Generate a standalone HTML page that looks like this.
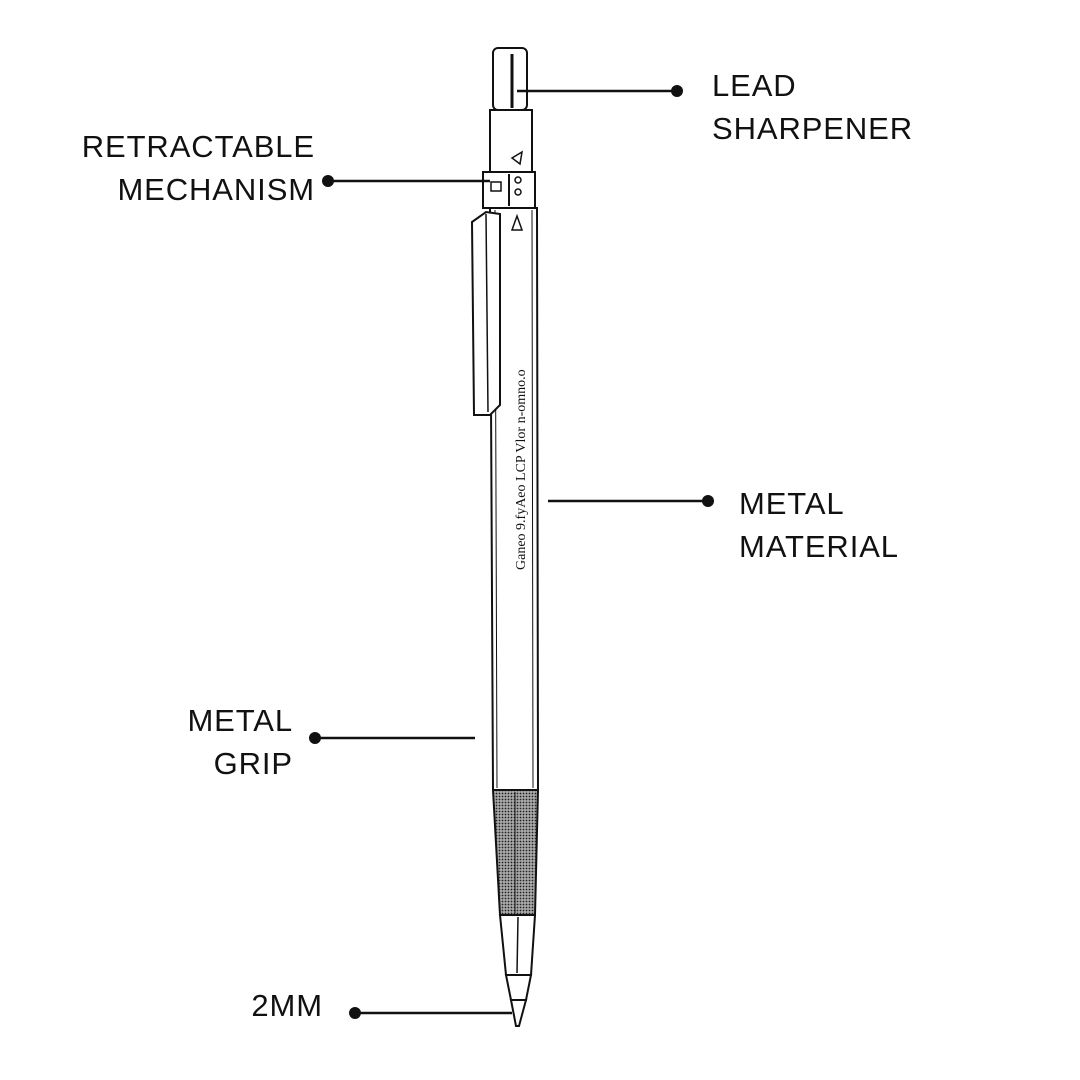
<!DOCTYPE html>
<html><head><style>
body{margin:0;width:1080px;height:1080px;background:#fff;overflow:hidden;position:relative;font-family:"Liberation Sans",sans-serif;}
.t{position:absolute;font-size:31px;color:#111;line-height:43px;letter-spacing:0.9px;}
</style></head><body>
<svg width="1080" height="1080" style="position:absolute;left:0;top:0" stroke="#111" fill="none" stroke-width="2">
<defs><pattern id="dots" width="3" height="3" patternUnits="userSpaceOnUse"><rect width="3" height="3" fill="#aaa" stroke="none"/><circle cx="1.5" cy="1.5" r="0.9" fill="#222" stroke="none"/></pattern></defs>
<rect x="493" y="48" width="34" height="62" rx="5" fill="#fff"/>
<line x1="512" y1="54" x2="512" y2="108" stroke-width="3"/>
<rect x="490" y="110" width="42" height="62" fill="#fff"/>
<path d="M512 158 l10 -6 l-2 12 z" stroke-width="1.5"/>
<rect x="483" y="172" width="52" height="36" fill="#fff"/>
<line x1="509" y1="174" x2="509" y2="206"/>
<rect x="491" y="182" width="10" height="9" stroke-width="1.5"/>
<circle cx="518" cy="180" r="3" stroke-width="1.5"/><circle cx="518" cy="192" r="3" stroke-width="1.5"/>
<path d="M490 208 L537 208 L538 790 L493 790 Z" fill="#fff"/>
<line x1="495" y1="210" x2="497" y2="788" stroke-width="1"/>
<line x1="532" y1="210" x2="533" y2="788" stroke-width="1"/>
<path d="M512 230 l5 -14 l5 14 z" stroke-width="1.5"/>
<path d="M472 222 L486 212 L500 214 L500 405 L490 415 L474 415 Z" fill="#fff"/>
<line x1="486" y1="214" x2="488" y2="412" stroke-width="1.5"/>
<text x="0" y="0" transform="translate(525,570) rotate(-90)" font-family="Liberation Serif" font-size="14" fill="#111" stroke="none">Ganeo  9.fyAeo LCP Vlor n-omno.o</text>
<path d="M493 790 L538 790 L535 915 L500 915 Z" fill="url(#dots)"/>
<line x1="515" y1="792" x2="515" y2="913" stroke-width="1"/>
<path d="M500 915 L535 915 L531 975 L506 975 Z" fill="#fff"/>
<line x1="518" y1="917" x2="517" y2="973" stroke-width="1.5"/>
<path d="M506 975 L531 975 L526 1000 L511 1000 Z" fill="#fff"/>
<path d="M511 1000 L526 1000 L519 1026 L516 1026 Z" fill="#fff"/>
<g stroke-width="2.5">
<line x1="517" y1="91" x2="677" y2="91"/>
<line x1="328" y1="181" x2="490" y2="181"/>
<line x1="548" y1="501" x2="708" y2="501"/>
<line x1="315" y1="738" x2="475" y2="738"/>
<line x1="355" y1="1013" x2="512" y2="1013"/>
</g>
<g fill="#111" stroke="none">
<circle cx="677" cy="91" r="6"/><circle cx="328" cy="181" r="6"/><circle cx="708" cy="501" r="6"/><circle cx="315" cy="738" r="6"/><circle cx="355" cy="1013" r="6"/>
</g>
</svg>
<div class="t" style="left:712px;top:64px">LEAD<br>SHARPENER</div>
<div class="t" style="right:765px;top:125px;text-align:right">RETRACTABLE<br>MECHANISM</div>
<div class="t" style="left:739px;top:482px">METAL<br>MATERIAL</div>
<div class="t" style="right:787px;top:699px;text-align:right">METAL<br>GRIP</div>
<div class="t" style="right:757px;top:984px;text-align:right">2MM</div>
</body></html>
